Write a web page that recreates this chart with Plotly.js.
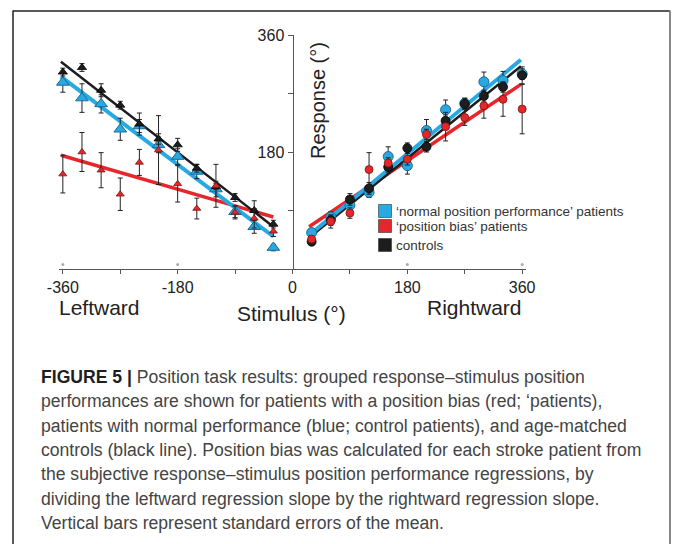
<!DOCTYPE html>
<html>
<head>
<meta charset="utf-8">
<script src="https://cdn.plot.ly/plotly-3.0.1.min.js"></script>
<style>html,body{margin:0;padding:0;background:#fff;}#chart{width:675px;height:544px;}</style>
</head>
<body>
<div id="chart"></div>
<script>
// ---- data ----
const stimLeft  = [-360,-330,-300,-270,-240,-210,-180,-150,-120,-90,-60,-30];
const stimRight = [30,60,90,120,150,180,210,240,270,300,330,360];

const normalLeft     = [287,263,254,215,220,191,173,150,123,88,65,33];
const normalLeftErr  = [15,22,14,17,10,12,12,11,12,9,10,5];
const biasLeft       = [146,180,152,115,164,183,131,93,128,87,78,58];
const biasLeftErr    = [29,30,27,25,20,53,28,16,33,10,15,8];
const controlLeft    = [303,310,275,252,223,200,191,155,127,110,90,69];
const controlLeftErr = [6,6,10,6,17,8,10,6,5,6,15,6];

const normalRight     = [56,80,98,118,173,159,213,245,255,288,290,300];
const normalRightErr  = [5,8,8,8,15,13,17,15,8,15,14,8];
const biasRight       = [46,73,86,153,163,169,207,219,233,251,261,246];
const biasRightErr    = [5,10,8,26,8,9,8,22,12,19,26,38];
const controlRight    = [42,75,107,124,157,186,188,228,254,266,280,298];
const controlRightErr = [5,8,9,9,8,8,8,9,8,9,8,13];

// regression lines (end points)
const fitLeftX        = [-363,-30];
const controlFitLeft  = [319,65];
const normalFitLeft   = [296,50];
const biasFitLeft     = [175,80];
const fitRightX       = [26,358];
const controlFitRight = [48,312];
const normalFitRight  = [52,322];
const biasFitRight    = [65,284];

// small grey reference dots above the x axis
const dotX = [-360,-180,180,360];
const dotY = [7,7,7,7];

const xTickVals = [-360,-270,-180,-90,0,90,180,270,360];
const xTickText = ['-360','','-180','','0','','180','','360'];
const yTickVals = [90,180,270,360];
const yTickText = ['','180','','360'];

const legendLabels = ["‘normal position performance’ patients","‘position bias’ patients","controls"];
const captionLines = [
  "<b><span style='color:#1e1e1e'>FIGURE 5 |</span></b> Position task results: grouped response–stimulus position",
  "performances are shown for patients with a position bias (red; ‘patients),",
  "patients with normal performance (blue; control patients), and age-matched",
  "controls (black line). Position bias was calculated for each stroke patient from",
  "the subjective response–stimulus position performance regressions, by",
  "dividing the leftward regression slope by the rightward regression slope.",
  "Vertical bars represent standard errors of the mean."
];

// ---- styles ----
const BLUE = '#29a9e1', RED = '#e5262b', BLACK = '#1d1d1d';
const W = 675, H = 544, L = 59, R = 149, T = 35, B = 275;
const PW = W - L - R, PH = H - T - B;
const px = x => (x - L) / PW;
const py = y => (H - B - y) / PH;

function lineTrace(x, y, color, width) {
  return {x: x, y: y, mode: 'lines', line: {color: color, width: width}, hoverinfo: 'skip', showlegend: false};
}
function ptTrace(x, y, err, symbol, size, fill, outline, ow) {
  return {x: x, y: y, mode: 'markers', showlegend: false, cliponaxis: false,
    marker: {symbol: symbol, size: size, color: fill, line: {color: outline, width: ow}},
    error_y: {type: 'data', array: err, visible: true, color: '#222', thickness: 1, width: 2.5}};
}

const data = [
  lineTrace(fitLeftX, biasFitLeft, RED, 3.5),
  lineTrace(fitLeftX, normalFitLeft, BLUE, 4),
  lineTrace(fitLeftX, controlFitLeft, BLACK, 2.5),
  lineTrace(fitRightX, biasFitRight, RED, 3.5),
  lineTrace(fitRightX, controlFitRight, BLACK, 2.5),
  lineTrace(fitRightX, normalFitRight, BLUE, 4),
  ptTrace(stimLeft, normalLeft, normalLeftErr, 'triangle-up', 11, BLUE, '#1b6a98', 1),
  ptTrace(stimLeft, controlLeft, controlLeftErr, 'triangle-up', 8, BLACK, '#000', 0.8),
  ptTrace(stimLeft, biasLeft, biasLeftErr, 'triangle-up', 7, RED, '#7a1515', 0.8),
  ptTrace(stimRight, normalRight, normalRightErr, 'circle', 10, BLUE, '#1b6a98', 1),
  ptTrace(stimRight, controlRight, controlRightErr, 'circle', 9, BLACK, '#000', 0.8),
  ptTrace(stimRight, biasRight, biasRightErr, 'circle', 8, RED, '#7a1515', 0.8),
  {x: dotX, y: dotY, mode: 'markers', showlegend: false, cliponaxis: false,
   marker: {size: 3, color: '#aaa'}, hoverinfo: 'skip'}
];

const FONT = 'Liberation Sans, Arial, sans-serif';
const annotations = [
  {text: 'Leftward', x: px(99), y: py(307), font: {size: 21, color: '#222'}},
  {text: 'Stimulus (°)', x: px(291), y: py(313), font: {size: 21, color: '#222'}},
  {text: 'Rightward', x: px(474), y: py(307), font: {size: 21, color: '#222'}},
  {text: 'Response (°)', x: px(318), y: py(101), textangle: -90, font: {size: 20, color: '#222'}}
];
const legY = [211, 226, 245];
const legC = [BLUE, RED, BLACK];
const shapes = [];
legendLabels.forEach((t, i) => {
  annotations.push({text: t, x: px(394), y: py(legY[i]), xanchor: 'left', font: {size: 13.5, color: '#333'}});
  shapes.push({type: 'rect', xref: 'paper', yref: 'paper', x0: px(378.5), x1: px(391.5), y0: py(legY[i] + 6.5), y1: py(legY[i] - 6.5),
    fillcolor: legC[i], line: {color: '#333', width: 0.6}});
});
captionLines.forEach((t, i) => {
  annotations.push({text: t, x: px(39), y: py(377 + i * 24.3), xanchor: 'left', font: {size: 17.6, color: '#444'}});
});
annotations.forEach(a => { a.xref = 'paper'; a.yref = 'paper'; a.showarrow = false; if (!a.xanchor) a.xanchor = 'center'; a.yanchor = 'middle'; });

// figure frame
shapes.push({type: 'line', xref: 'paper', yref: 'paper', x0: px(13), x1: px(13), y0: py(10.5), y1: py(560), line: {color: '#222', width: 1.5}});
shapes.push({type: 'line', xref: 'paper', yref: 'paper', x0: px(13), x1: px(670), y0: py(11), y1: py(11), line: {color: '#222', width: 1.5}});
shapes.push({type: 'line', xref: 'paper', yref: 'paper', x0: px(670), x1: px(670), y0: py(10.5), y1: py(560), line: {color: '#888', width: 2}});

const layout = {
  width: W, height: H,
  margin: {l: L, r: R, t: T, b: B, pad: 0},
  paper_bgcolor: '#fff', plot_bgcolor: 'rgba(0,0,0,0)',
  font: {family: FONT, color: '#222'},
  showlegend: false,
  xaxis: {range: [-366, 366], domain: [0, 1], showgrid: false, zeroline: false,
    showline: true, linecolor: '#555', linewidth: 1, ticks: 'outside', ticklen: 4, tickcolor: '#555',
    tickvals: xTickVals, ticktext: xTickText, tickfont: {size: 16, color: '#222'}, automargin: false, fixedrange: true},
  yaxis: {range: [0, 360], anchor: 'free', position: 0.5, showgrid: false, zeroline: false,
    showline: true, linecolor: '#555', linewidth: 1, ticks: 'outside', ticklen: 5, tickcolor: '#555',
    tickvals: yTickVals, ticktext: yTickText, tickfont: {size: 16, color: '#222'}, automargin: false, fixedrange: true},
  annotations: annotations,
  shapes: shapes
};

Plotly.newPlot('chart', data, layout, {displayModeBar: false, staticPlot: true});
</script>
</body>
</html>
